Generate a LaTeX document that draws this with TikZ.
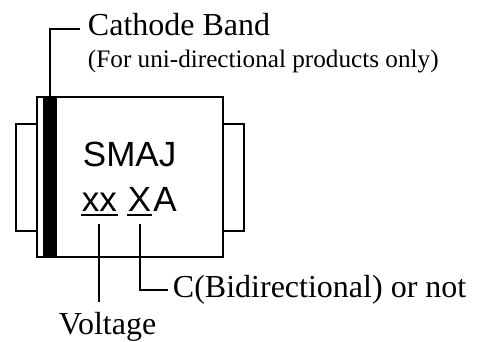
\documentclass[tikz,border=0pt]{standalone}
\usepackage{fontspec}
\setmainfont{Liberation Serif}
\newfontfamily\arialfont{Liberation Sans}
\usetikzlibrary{calc}

\tikzset{
  label16/.style={anchor=base west, inner sep=0pt, font=\fontsize{16}{19}\selectfont},
  label12/.style={anchor=base west, inner sep=0pt, font=\fontsize{12.6}{15}\selectfont},
  marking/.style={anchor=base west, inner sep=0pt, font=\arialfont\fontsize{17.5}{21}\selectfont},
}

\begin{document}
\begin{tikzpicture}[x=0.5pt, y=-0.5pt, line width=1pt]
	%%%%% START %%%%%
	\useasboundingbox (0,0) rectangle (479,342);
	
	% tabs and body
	\draw (16,124) rectangle (37,231);
	\draw (223,124) rectangle (244,231);
	\draw[fill=white] (37,97) rectangle (223,257);
	\draw[fill=black] (44,97) rectangle (56,257);
	\coordinate (bandtop) at (50,97);
	
	% marking on the body
	\node[marking] (type) at (82,167) {SMAJ};
	\node[marking] (volt) at (81,212) {xx};
	\node[marking] (bidir) at (127,212) {X};
	\node[marking] (pkg) at (bidir.base east) {A};
	\draw ($(volt.base west)+(0,3)$) -- ($(volt.base east)+(0,3)$);
	\draw ($(bidir.base west)+(0,3)$) -- ($(bidir.base east)+(0,3)$);
	
	% labels
	\node[label16] (cathode) at (87,36) {Cathode Band};
	\node[label12] (note) at (87,68) {(For uni-directional products only)};
	\node[label16] (voltlabel) at (58,335) {Voltage};
	\node[label16] (bidirlabel) at (172,298) {C(Bidirectional) or not};
	
	% leaders
	\draw (bandtop) |- ($(cathode.base west)+(-7,-7)$);
	\draw ($(volt.south)+(0,11)$) -- ($(voltlabel.north -| volt.south)+(0,-10)$);
	\draw ($(bidir.south)+(0,11)$) |- ($(bidirlabel.base west)+(-4,-8)$);
	%%%%% END %%%%%
\end{tikzpicture}
\end{document}
